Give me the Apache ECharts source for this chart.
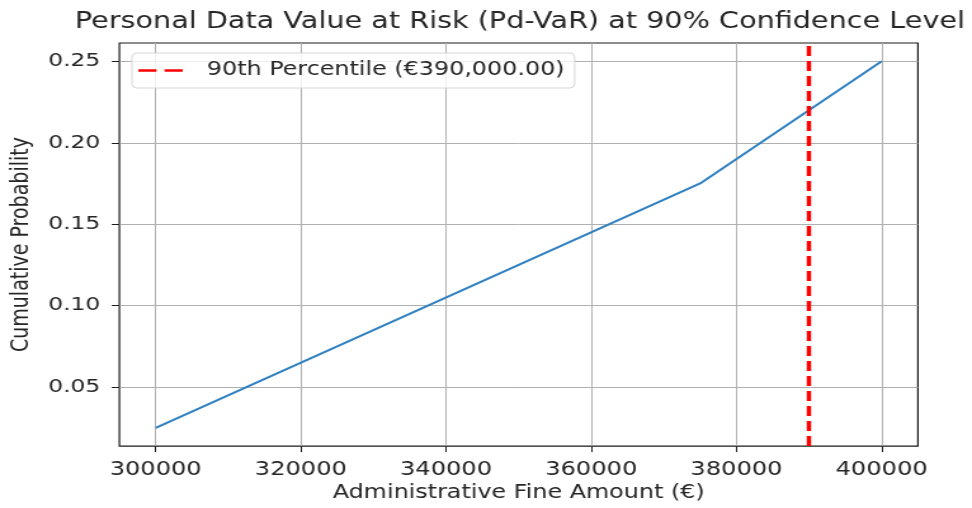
<!DOCTYPE html>
<html>
<head>
<meta charset="utf-8">
<script src="https://cdn.jsdelivr.net/npm/echarts@6/dist/echarts.min.js"></script>
<style>
  html, body { margin: 0; padding: 0; background: #ffffff; overflow: hidden; }
  #wrap { width: 972px; height: 508px; overflow: hidden; }
  /* the chart is laid out at a narrower width and widened to the full page */
  #chart { width: 766px; height: 508px; transform: scaleX(1.2689); transform-origin: 0 0; }
</style>
</head>
<body>
<div id="wrap"><div id="chart"></div></div>
<script>
// Administrative fine amounts (EUR) and cumulative probabilities
const fineAmounts = [300000, 325000, 350000, 375000, 400000];
const cumulativeProb = [0.025, 0.075, 0.125, 0.175, 0.25];

// 90th percentile of the fine distribution
const percentile90 = 390000;

// Axis ranges and tick positions
const xRange = [295000, 405000];
const yRange = [0.01375, 0.26125];
const xTicks = [300000, 320000, 340000, 360000, 380000, 400000];
const yTicks = [0.05, 0.10, 0.15, 0.20, 0.25];

const FONT = "'DejaVu Sans', sans-serif";
const INK = '#262626';

const p90Label = '90th Percentile (€' +
  percentile90.toLocaleString('en-US', { minimumFractionDigits: 2, maximumFractionDigits: 2 }) + ')';

// two-dash legend key for the dashed percentile line
const dashIcon = 'path://M0,0H18V3H0Z M26,0H44V3H26Z';

const chart = echarts.init(document.getElementById('chart'), null, { renderer: 'canvas' });

chart.setOption({
  animation: false,
  backgroundColor: '#ffffff',
  title: {
    text: 'Personal Data Value at Risk (Pd-VaR) at 90% Confidence Level',
    left: 59,
    top: 11,
    padding: 0,
    textStyle: { fontFamily: FONT, fontSize: 22.6, fontWeight: 'normal', color: INK }
  },
  grid: {
    left: 93.4,
    right: 42.6,
    top: 43,
    bottom: 59,
    show: true,
    borderColor: '#1a1a1a',
    borderWidth: 1.2,
    backgroundColor: 'transparent'
  },
  legend: {
    data: [{ name: p90Label, icon: dashIcon }],
    left: 104,
    top: 53,
    orient: 'horizontal',
    itemWidth: 35,
    itemHeight: 3,
    padding: [8, 8, 8, 5],
    backgroundColor: 'rgba(255,255,255,0.8)',
    borderColor: '#d6d6d6',
    borderWidth: 1,
    borderRadius: 4,
    itemStyle: { color: '#ff0000' },
    textStyle: { fontFamily: FONT, fontSize: 18.8, color: INK, padding: [0, 0, 0, 14] }
  },
  xAxis: {
    type: 'value',
    min: xRange[0],
    max: xRange[1],
    name: 'Administrative Fine Amount (€)',
    nameLocation: 'middle',
    nameGap: 34,
    nameTextStyle: { fontFamily: FONT, fontSize: 18.8, color: INK },
    axisLine: { show: false },
    axisTick: { show: true, length: 6, customValues: xTicks, lineStyle: { color: '#1a1a1a', width: 1 } },
    axisLabel: {
      customValues: xTicks,
      margin: 14,
      fontFamily: FONT, fontSize: 19, color: INK,
      formatter: v => String(v)
    },
    splitLine: { show: true, lineStyle: { color: '#b0b0b0', width: 1 } }
  },
  yAxis: {
    type: 'value',
    min: yRange[0],
    max: yRange[1],
    name: 'Cumulative Probability',
    nameLocation: 'middle',
    nameRotate: 90,
    nameGap: 66,
    nameTextStyle: { fontFamily: FONT, fontSize: 19, color: INK },
    axisLine: { show: false },
    axisTick: { show: true, length: 6, customValues: yTicks, lineStyle: { color: '#1a1a1a', width: 1 } },
    axisLabel: {
      customValues: yTicks,
      margin: 15,
      fontFamily: FONT, fontSize: 18.5, color: INK,
      formatter: v => v.toFixed(2)
    },
    splitLine: { show: true, lineStyle: { color: '#b0b0b0', width: 1 } }
  },
  series: [
    {
      name: 'CDF',
      type: 'line',
      data: fineAmounts.map((x, i) => [x, cumulativeProb[i]]),
      showSymbol: false,
      symbol: 'none',
      lineStyle: { color: '#2f80c0', width: 2 },
      itemStyle: { color: '#2f80c0' },
      z: 3
    },
    {
      name: p90Label,
      type: 'line',
      data: [],
      symbol: 'none',
      lineStyle: { color: '#ff0000', width: 3, type: [10, 6] },
      itemStyle: { color: '#ff0000' },
      markLine: {
        silent: true,
        symbol: ['none', 'none'],
        label: { show: false },
        lineStyle: { color: '#ff0000', width: 3.4, type: [10, 5] },
        data: [{ xAxis: percentile90 }]
      },
      z: 4
    }
  ]
});
</script>
</body>
</html>
